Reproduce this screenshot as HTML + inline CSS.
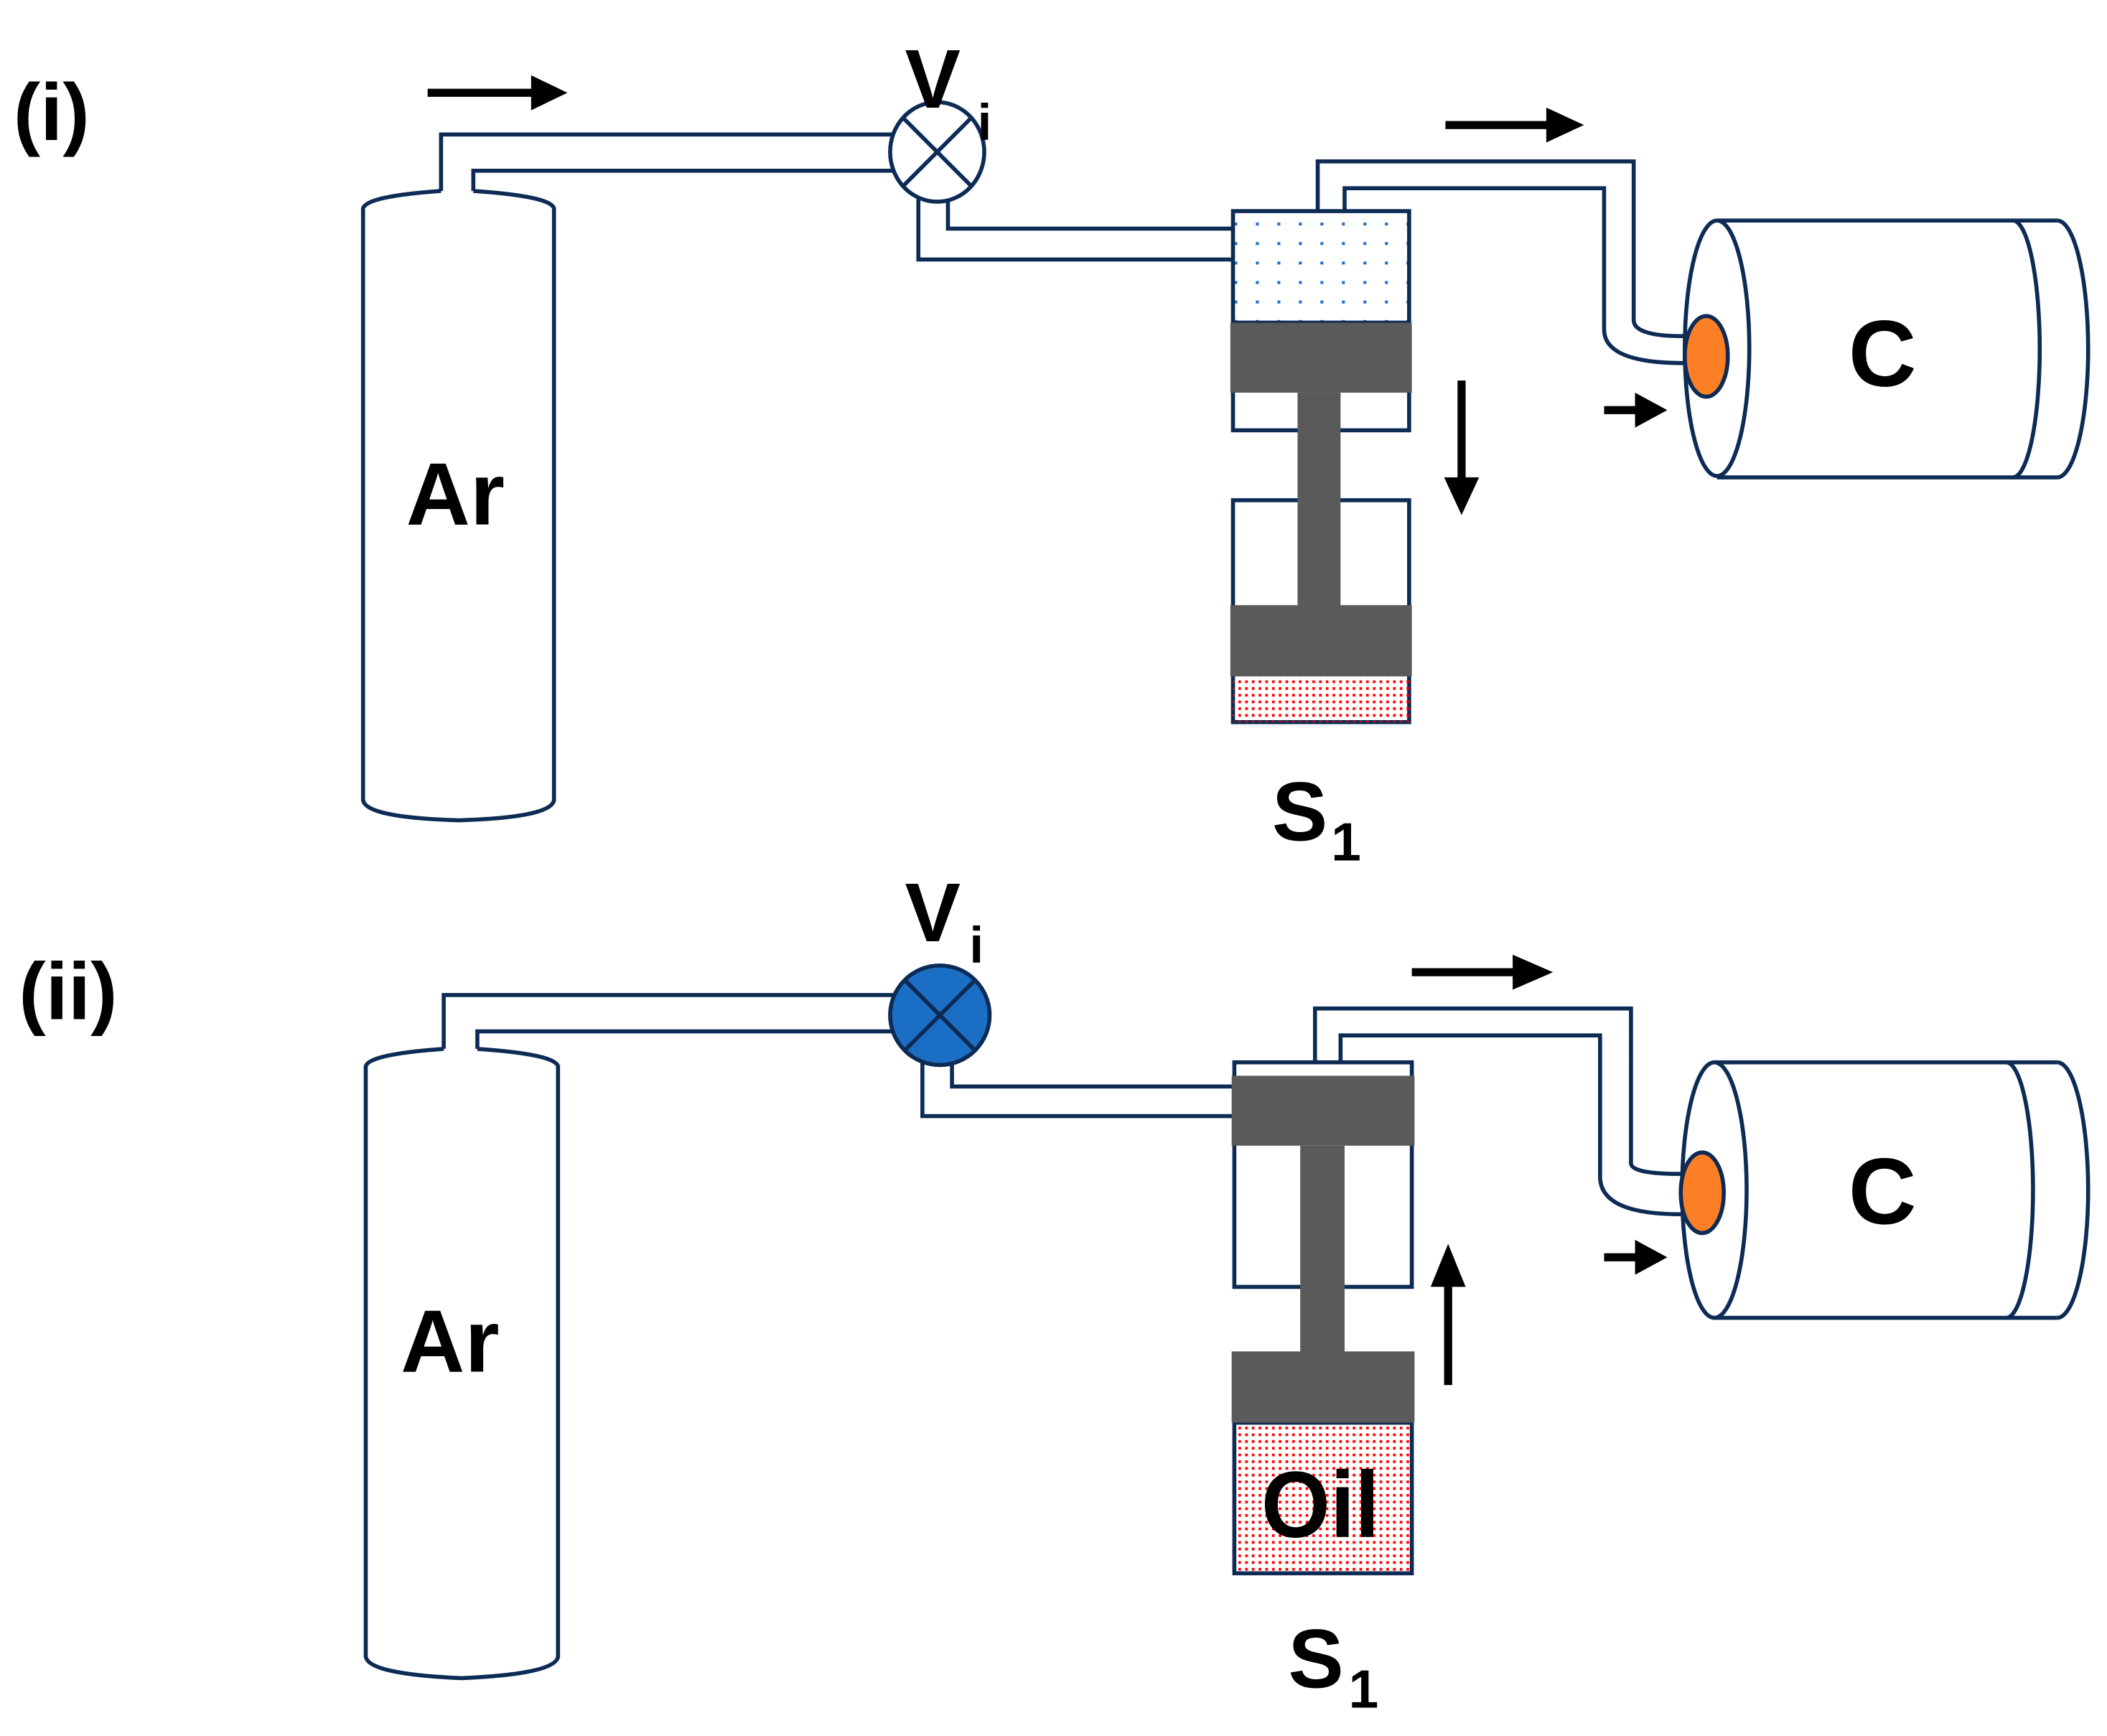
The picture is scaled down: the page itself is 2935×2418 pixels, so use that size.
<!DOCTYPE html>
<html><head><meta charset="utf-8"><style>html,body{margin:0;padding:0;background:#fff}svg{display:block}</style></head>
<body>
<svg width="2935" height="2418" viewBox="0 0 1567 1291" xmlns="http://www.w3.org/2000/svg" font-family="Liberation Sans, sans-serif" font-weight="bold">
<defs>
<pattern id="bd" width="16" height="14.5" patternUnits="userSpaceOnUse"><rect x="6" y="6" width="2.2" height="2.2" fill="#1f6fd0"/></pattern>
<pattern id="rd" width="5" height="5" patternUnits="userSpaceOnUse"><rect x="1" y="1" width="2" height="2" fill="#f00"/></pattern>
</defs>
<g fill="none" stroke="#0d2b55" stroke-width="3">
<!-- PANEL i -->
<path d="M328,142 L328,100 L665,100"/>
<path d="M352,142 L352,127 L665,127"/>
<path d="M328,142 Q272,146 270,155 L270,595 Q272,608 341,610 Q410,608 412,595 L412,155 Q410,146 352,142"/>
<ellipse cx="697" cy="113" rx="35" ry="37" fill="#fff"/>
<path d="M672,88 L722,138 M722,88 L672,138"/>
<path d="M683,147 L683,193 L917,193 M705,149 L705,170 L917,170"/>
<rect x="917" y="157" width="131" height="83" fill="url(#bd)"/>
<rect x="917" y="240" width="131" height="80"/>
<rect x="917" y="372" width="131" height="165"/>
<rect x="917" y="503" width="131" height="34" fill="url(#rd)" stroke="none"/>
<path d="M980,157 L980,120 L1215,120 L1215,238 Q1215,250 1252,250 M1000,157 L1000,140 L1193,140 L1193,245 Q1193,270 1252,270"/>
<path d="M1277,164 L1530,164 M1277,355 L1530,355"/>
<path d="M1497,164 A20,95.5 0 0 1 1497,355"/>
<path d="M1530,164 A23,95.5 0 0 1 1530,355"/>
<ellipse cx="1277" cy="259" rx="24" ry="95" fill="#fff"/>
<ellipse cx="1269" cy="265" rx="16" ry="30" fill="#fd7f25"/>
<!-- PANEL ii -->
<path d="M330,780 L330,740 L665,740"/>
<path d="M355,780 L355,767 L665,767"/>
<path d="M330,780 Q274,784 272,793 L272,1232 Q274,1245 343,1248 Q413,1245 415,1232 L415,793 Q413,784 355,780"/>
<path d="M686,787 L686,830 L918,830 M708,789 L708,808 L918,808"/>
<rect x="918" y="790" width="132" height="167"/>
<rect x="918" y="1058" width="132" height="112" fill="url(#rd)"/>
<path d="M978,790 L978,750 L1213,750 L1213,865 Q1213,873 1250,873 M997,790 L997,770 L1190,770 L1190,875 Q1190,903 1250,903"/>
<path d="M1275,790 L1530,790 M1275,980 L1530,980"/>
<path d="M1492,790 A20,95 0 0 1 1492,980"/>
<path d="M1530,790 A23,95 0 0 1 1530,980"/>
<ellipse cx="1275" cy="885" rx="24" ry="95" fill="#fff"/>
<ellipse cx="1266" cy="887" rx="16" ry="30" fill="#fd7f25"/>
<ellipse cx="699" cy="755" rx="37" ry="37" fill="#1a6fc4"/>
<path d="M673,729 L725,781 M725,729 L673,781"/>
</g>
<g fill="#5a5a5a">
<rect x="915" y="240" width="135" height="52"/>
<rect x="965" y="292" width="32" height="160"/>
<rect x="915" y="450" width="135" height="53"/>
<rect x="916" y="800" width="136" height="52"/>
<rect x="967" y="852" width="33" height="155"/>
<rect x="916" y="1005" width="136" height="53"/>
</g>
<g fill="#000">
<rect x="318" y="66" width="80" height="6"/><path d="M395,56 L422,69 L395,82 Z"/>
<rect x="1075" y="90" width="78" height="6"/><path d="M1150,80 L1178,93 L1150,106 Z"/>
<rect x="1084" y="283" width="6" height="75"/><path d="M1074,355 L1087,383 L1100,355 Z"/>
<rect x="1193" y="302" width="25" height="6"/><path d="M1216,292 L1240,305 L1216,318 Z"/>
<rect x="1050" y="720" width="78" height="6"/><path d="M1125,710 L1155,723 L1125,736 Z"/>
<rect x="1074" y="955" width="6" height="75"/><path d="M1064,957 L1077,925 L1090,957 Z"/>
<rect x="1193" y="932" width="25" height="6"/><path d="M1216,922 L1240,935 L1216,948 Z"/>
<text x="10" y="104" font-size="60">(i)</text>
<text x="14" y="758" font-size="60">(ii)</text>
<text x="673" y="80" font-size="62">V</text><text x="727" y="104" font-size="38">i</text>
<text x="673" y="700" font-size="62">V</text><text x="721" y="716" font-size="38">i</text>
<text x="302" y="390" font-size="66">Ar</text>
<text x="298" y="1020" font-size="66">Ar</text>
<text x="1400" y="287" font-size="70" text-anchor="middle">C</text>
<text x="1400" y="910" font-size="70" text-anchor="middle">C</text>
<text x="946" y="625" font-size="62">S</text><text x="990" y="640" font-size="40">1</text>
<text x="958" y="1255" font-size="62">S</text><text x="1003" y="1270" font-size="40">1</text>
<text x="982" y="1143" font-size="70" text-anchor="middle" textLength="88" lengthAdjust="spacingAndGlyphs">Oil</text>
</g>
</svg>
</body></html>
